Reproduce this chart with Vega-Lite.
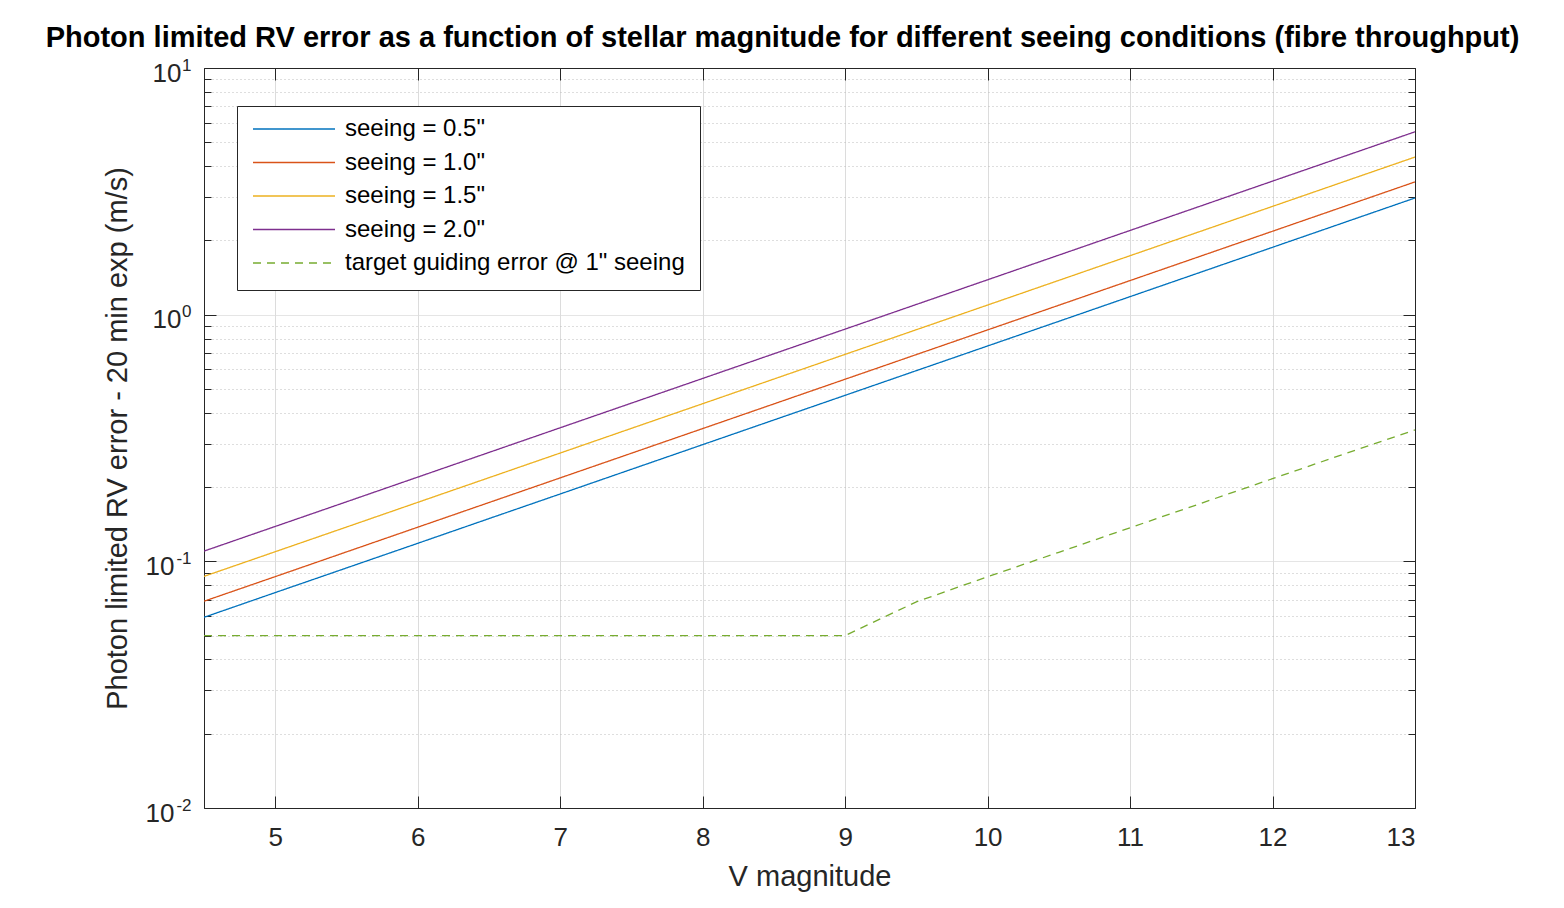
{
  "$schema": "https://vega.github.io/schema/vega-lite/v6.json",
  "width": 1211,
  "height": 740,
  "autosize": {"type": "none"},
  "padding": {"left": 204, "top": 68, "right": 149, "bottom": 100},
  "background": "white",
  "title": {
    "text": "Photon limited RV error as a function of stellar magnitude for different seeing conditions (fibre throughput)",
    "fontSize": 29,
    "fontWeight": "bold",
    "color": "black",
    "anchor": "middle",
    "dx": -27,
    "offset": 3
  },
  "data": {
    "values": [
      {"V": 4.5, "err": 0.0593, "series": "seeing = 0.5\""},
      {"V": 5.0, "err": 0.0747, "series": "seeing = 0.5\""},
      {"V": 5.5, "err": 0.0940, "series": "seeing = 0.5\""},
      {"V": 6.0, "err": 0.1183, "series": "seeing = 0.5\""},
      {"V": 6.5, "err": 0.1490, "series": "seeing = 0.5\""},
      {"V": 7.0, "err": 0.1875, "series": "seeing = 0.5\""},
      {"V": 7.5, "err": 0.2361, "series": "seeing = 0.5\""},
      {"V": 8.0, "err": 0.2972, "series": "seeing = 0.5\""},
      {"V": 8.5, "err": 0.3742, "series": "seeing = 0.5\""},
      {"V": 9.0, "err": 0.4710, "series": "seeing = 0.5\""},
      {"V": 9.5, "err": 0.5930, "series": "seeing = 0.5\""},
      {"V": 10.0, "err": 0.7465, "series": "seeing = 0.5\""},
      {"V": 10.5, "err": 0.9398, "series": "seeing = 0.5\""},
      {"V": 11.0, "err": 1.1832, "series": "seeing = 0.5\""},
      {"V": 11.5, "err": 1.4895, "series": "seeing = 0.5\""},
      {"V": 12.0, "err": 1.8752, "series": "seeing = 0.5\""},
      {"V": 12.5, "err": 2.3607, "series": "seeing = 0.5\""},
      {"V": 13.0, "err": 2.9720, "series": "seeing = 0.5\""},

      {"V": 4.5, "err": 0.0689, "series": "seeing = 1.0\""},
      {"V": 5.0, "err": 0.0867, "series": "seeing = 1.0\""},
      {"V": 5.5, "err": 0.1092, "series": "seeing = 1.0\""},
      {"V": 6.0, "err": 0.1375, "series": "seeing = 1.0\""},
      {"V": 6.5, "err": 0.1731, "series": "seeing = 1.0\""},
      {"V": 7.0, "err": 0.2179, "series": "seeing = 1.0\""},
      {"V": 7.5, "err": 0.2743, "series": "seeing = 1.0\""},
      {"V": 8.0, "err": 0.3453, "series": "seeing = 1.0\""},
      {"V": 8.5, "err": 0.4347, "series": "seeing = 1.0\""},
      {"V": 9.0, "err": 0.5473, "series": "seeing = 1.0\""},
      {"V": 9.5, "err": 0.6890, "series": "seeing = 1.0\""},
      {"V": 10.0, "err": 0.8674, "series": "seeing = 1.0\""},
      {"V": 10.5, "err": 1.0920, "series": "seeing = 1.0\""},
      {"V": 11.0, "err": 1.3748, "series": "seeing = 1.0\""},
      {"V": 11.5, "err": 1.7307, "series": "seeing = 1.0\""},
      {"V": 12.0, "err": 2.1788, "series": "seeing = 1.0\""},
      {"V": 12.5, "err": 2.7430, "series": "seeing = 1.0\""},
      {"V": 13.0, "err": 3.4532, "series": "seeing = 1.0\""},

      {"V": 4.5, "err": 0.0869, "series": "seeing = 1.5\""},
      {"V": 5.0, "err": 0.1094, "series": "seeing = 1.5\""},
      {"V": 5.5, "err": 0.1377, "series": "seeing = 1.5\""},
      {"V": 6.0, "err": 0.1734, "series": "seeing = 1.5\""},
      {"V": 6.5, "err": 0.2183, "series": "seeing = 1.5\""},
      {"V": 7.0, "err": 0.2748, "series": "seeing = 1.5\""},
      {"V": 7.5, "err": 0.3460, "series": "seeing = 1.5\""},
      {"V": 8.0, "err": 0.4355, "series": "seeing = 1.5\""},
      {"V": 8.5, "err": 0.5483, "series": "seeing = 1.5\""},
      {"V": 9.0, "err": 0.6903, "series": "seeing = 1.5\""},
      {"V": 9.5, "err": 0.8690, "series": "seeing = 1.5\""},
      {"V": 10.0, "err": 1.0940, "series": "seeing = 1.5\""},
      {"V": 10.5, "err": 1.3773, "series": "seeing = 1.5\""},
      {"V": 11.0, "err": 1.7339, "series": "seeing = 1.5\""},
      {"V": 11.5, "err": 2.1828, "series": "seeing = 1.5\""},
      {"V": 12.0, "err": 2.7480, "series": "seeing = 1.5\""},
      {"V": 12.5, "err": 3.4596, "series": "seeing = 1.5\""},
      {"V": 13.0, "err": 4.3553, "series": "seeing = 1.5\""},

      {"V": 4.5, "err": 0.1100, "series": "seeing = 2.0\""},
      {"V": 5.0, "err": 0.1385, "series": "seeing = 2.0\""},
      {"V": 5.5, "err": 0.1743, "series": "seeing = 2.0\""},
      {"V": 6.0, "err": 0.2195, "series": "seeing = 2.0\""},
      {"V": 6.5, "err": 0.2763, "series": "seeing = 2.0\""},
      {"V": 7.0, "err": 0.3479, "series": "seeing = 2.0\""},
      {"V": 7.5, "err": 0.4379, "series": "seeing = 2.0\""},
      {"V": 8.0, "err": 0.5513, "series": "seeing = 2.0\""},
      {"V": 8.5, "err": 0.6941, "series": "seeing = 2.0\""},
      {"V": 9.0, "err": 0.8738, "series": "seeing = 2.0\""},
      {"V": 9.5, "err": 1.1000, "series": "seeing = 2.0\""},
      {"V": 10.0, "err": 1.3848, "series": "seeing = 2.0\""},
      {"V": 10.5, "err": 1.7434, "series": "seeing = 2.0\""},
      {"V": 11.0, "err": 2.1948, "series": "seeing = 2.0\""},
      {"V": 11.5, "err": 2.7631, "series": "seeing = 2.0\""},
      {"V": 12.0, "err": 3.4785, "series": "seeing = 2.0\""},
      {"V": 12.5, "err": 4.3792, "series": "seeing = 2.0\""},
      {"V": 13.0, "err": 5.5131, "series": "seeing = 2.0\""},

      {"V": 4.5, "err": 0.05, "series": "target guiding error @ 1\" seeing"},
      {"V": 5.0, "err": 0.05, "series": "target guiding error @ 1\" seeing"},
      {"V": 5.5, "err": 0.05, "series": "target guiding error @ 1\" seeing"},
      {"V": 6.0, "err": 0.05, "series": "target guiding error @ 1\" seeing"},
      {"V": 6.5, "err": 0.05, "series": "target guiding error @ 1\" seeing"},
      {"V": 7.0, "err": 0.05, "series": "target guiding error @ 1\" seeing"},
      {"V": 7.5, "err": 0.05, "series": "target guiding error @ 1\" seeing"},
      {"V": 8.0, "err": 0.05, "series": "target guiding error @ 1\" seeing"},
      {"V": 8.5, "err": 0.05, "series": "target guiding error @ 1\" seeing"},
      {"V": 9.0, "err": 0.05, "series": "target guiding error @ 1\" seeing"},
      {"V": 9.5, "err": 0.0685, "series": "target guiding error @ 1\" seeing"},
      {"V": 10.0, "err": 0.0866, "series": "target guiding error @ 1\" seeing"},
      {"V": 10.5, "err": 0.1088, "series": "target guiding error @ 1\" seeing"},
      {"V": 11.0, "err": 0.1368, "series": "target guiding error @ 1\" seeing"},
      {"V": 11.5, "err": 0.1720, "series": "target guiding error @ 1\" seeing"},
      {"V": 12.0, "err": 0.2163, "series": "target guiding error @ 1\" seeing"},
      {"V": 12.5, "err": 0.2720, "series": "target guiding error @ 1\" seeing"},
      {"V": 13.0, "err": 0.3410, "series": "target guiding error @ 1\" seeing"}
    ]
  },
  "layer": [
    {
      "mark": {"type": "line", "strokeWidth": 1.3, "clip": true},
      "encoding": {
        "x": {
          "field": "V",
          "type": "quantitative",
          "scale": {"domain": [4.5, 13], "nice": false, "zero": false},
          "axis": {
            "orient": "bottom",
            "title": "V magnitude",
            "values": [5, 6, 7, 8, 9, 10, 11, 12, 13],
            "labelFontSize": 26,
            "labelColor": "#262626",
            "labelPadding": 28,
            "tickSize": -12,
            "tickColor": "#262626",
            "domainColor": "#262626",
            "grid": true,
            "gridColor": "#dcdcdc",
            "gridWidth": 1,
            "titleFontSize": 29,
            "titleFontWeight": "normal",
            "titleColor": "#262626",
            "titleBaseline": "alphabetic",
            "titleY": 77
          }
        },
        "y": {
          "field": "err",
          "type": "quantitative",
          "scale": {"type": "log", "domain": [0.01, 10], "nice": false},
          "axis": {
            "orient": "left",
            "title": "Photon limited RV error - 20 min exp (m/s)",
            "values": [0.01, 0.02, 0.03, 0.04, 0.05, 0.06, 0.07, 0.08, 0.09, 0.1, 0.2, 0.3, 0.4, 0.5, 0.6, 0.7, 0.8, 0.9, 1, 2, 3, 4, 5, 6, 7, 8, 9, 10],
            "labelExpr": "abs(log(datum.value)/LN10 - round(log(datum.value)/LN10)) < 0.001 ? '10' : ''",
            "labelFontSize": 26,
            "labelColor": "#262626",
            "labelOffset": 5,
            "labelPadding": {"condition": {"test": "datum.value >= 1", "value": 35}, "value": 42},
            "tickSize": {"condition": {"test": "abs(log(datum.value)/LN10 - round(log(datum.value)/LN10)) < 0.001", "value": -12}, "value": -7},
            "tickColor": "#262626",
            "domainColor": "#262626",
            "grid": true,
            "gridColor": {"condition": {"test": "abs(log(datum.value)/LN10 - round(log(datum.value)/LN10)) < 0.001", "value": "#dcdcdc"}, "value": "#bdbdbd"},
            "gridDash": {"condition": {"test": "abs(log(datum.value)/LN10 - round(log(datum.value)/LN10)) < 0.001", "value": [1, 0]}, "value": [1, 3]},
            "titleFontSize": 29,
            "titleFontWeight": "normal",
            "titleColor": "#262626",
            "titleBaseline": "alphabetic",
            "titleX": -78
          }
        },
        "color": {
          "field": "series",
          "type": "nominal",
          "scale": {
            "domain": ["seeing = 0.5\"", "seeing = 1.0\"", "seeing = 1.5\"", "seeing = 2.0\"", "target guiding error @ 1\" seeing"],
            "range": ["#0072BD", "#D95319", "#EDB120", "#7E2F8E", "#77AC30"]
          },
          "legend": {
            "orient": "none",
            "legendX": 33,
            "legendY": 38,
            "title": null,
            "symbolType": "stroke",
            "symbolSize": 6724,
            "symbolStrokeWidth": 1.3,
            "labelFontSize": 24,
            "labelColor": "black",
            "labelOffset": 9,
            "labelLimit": 600,
            "rowPadding": 9.5,
            "clipHeight": 16,
            "padding": 15,
            "strokeColor": "#262626",
            "fillColor": "white"
          }
        },
        "strokeDash": {
          "field": "series",
          "type": "nominal",
          "scale": {
            "domain": ["seeing = 0.5\"", "seeing = 1.0\"", "seeing = 1.5\"", "seeing = 2.0\"", "target guiding error @ 1\" seeing"],
            "range": [[1, 0], [1, 0], [1, 0], [1, 0], [8, 6]]
          },
          "legend": null
        }
      }
    },
    {
      "mark": {"type": "line", "opacity": 0},
      "encoding": {
        "x": {
          "field": "V",
          "type": "quantitative",
          "axis": {
            "orient": "top",
            "title": null,
            "values": [5, 6, 7, 8, 9, 10, 11, 12, 13],
            "labels": false,
            "grid": false,
            "tickSize": -12,
            "tickColor": "#262626",
            "domainColor": "#262626"
          }
        },
        "y": {
          "field": "err",
          "type": "quantitative",
          "axis": {
            "orient": "right",
            "title": null,
            "values": [0.01, 0.02, 0.03, 0.04, 0.05, 0.06, 0.07, 0.08, 0.09, 0.1, 0.2, 0.3, 0.4, 0.5, 0.6, 0.7, 0.8, 0.9, 1, 2, 3, 4, 5, 6, 7, 8, 9, 10],
            "labels": false,
            "grid": false,
            "tickSize": {"condition": {"test": "abs(log(datum.value)/LN10 - round(log(datum.value)/LN10)) < 0.001", "value": -12}, "value": -7},
            "tickColor": "#262626",
            "domainColor": "#262626"
          }
        },
        "detail": {"field": "series", "type": "nominal"}
      }
    },
    {
      "mark": {"type": "line", "opacity": 0},
      "encoding": {
        "x": {"field": "V", "type": "quantitative", "axis": null},
        "y": {
          "field": "err",
          "type": "quantitative",
          "axis": {
            "orient": "left",
            "title": null,
            "values": [0.01, 0.1, 1, 10],
            "labelExpr": "datum.value == 10 ? '1' : datum.value == 1 ? '0' : datum.value == 0.1 ? '-1' : '-2'",
            "labelFontSize": 17,
            "labelColor": "#262626",
            "labelOffset": -3,
            "labelPadding": 13,
            "ticks": false,
            "domain": false,
            "grid": false
          }
        },
        "detail": {"field": "series", "type": "nominal"}
      }
    }
  ],
  "resolve": {"axis": {"x": "independent", "y": "independent"}},
  "config": {
    "font": "Liberation Sans",
    "view": {"stroke": "#262626"},
    "axis": {"domainWidth": 1, "tickWidth": 1}
  }
}
